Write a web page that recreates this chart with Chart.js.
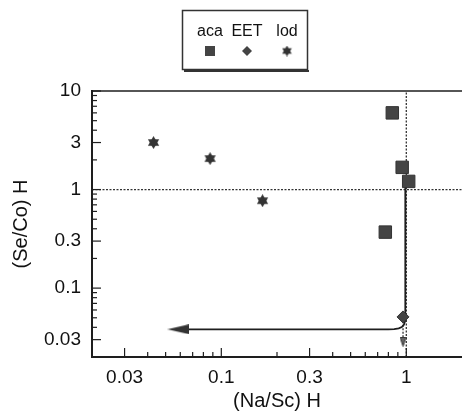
<!DOCTYPE html>
<html>
<head>
<meta charset="utf-8">
<script src="https://cdn.jsdelivr.net/npm/chart.js@4"></script>
<style>
  html, body { margin: 0; padding: 0; background: #fff; overflow: hidden; }
  #wrap { width: 462px; height: 412px; }
</style>
</head>
<body>
<div id="wrap"><canvas id="chart" width="462" height="412"></canvas></div>
<script>
// series names (legend order)
const seriesNames = ['aca', 'EET', 'lod'];

// values
const acaX = [0.84, 0.95, 1.03, 0.77];
const acaY = [6.0, 1.68, 1.21, 0.37];
const eetX = [0.96];
const eetY = [0.051];
const lodX = [0.043, 0.087, 0.167];
const lodY = [3.0, 2.06, 0.77];

// reference lines at 1 and the hand-drawn arrows
const refX = [0.02, 2];
const refY = [0.02, 10];
const trendX = [0.99, 0.99, 0.985, 0.97, 0.945, 0.91, 0.86, 0.8, 0.058];
const trendY = [1.1, 0.056, 0.047, 0.0425, 0.0402, 0.0390, 0.0384, 0.0382, 0.0382];
const arrowLeftX = [0.0586];
const arrowLeftY = [0.0382];
const dropX = [0.96, 0.96];
const dropY = [0.046, 0.03];
const arrowDownX = [0.96];
const arrowDownY = [0.0285];

// tick labels and minor tick marks
const xTicks = [0.03, 0.1, 0.3, 1];
const yTicks = [0.03, 0.1, 0.3, 1, 3, 10];
const xMinor = [0.04, 0.05, 0.06, 0.07, 0.08, 0.09, 0.2, 0.4, 0.5, 0.6, 0.7, 0.8, 0.9];
const yMinor = [0.02, 0.04, 0.05, 0.06, 0.07, 0.08, 0.09, 0.2, 0.4, 0.5, 0.6, 0.7, 0.8, 0.9, 2, 4, 5, 6, 7, 8, 9];

const ink = '#1e1e1e';
const markFill = '#444';

Chart.defaults.font.family = '"Liberation Sans", Arial, sans-serif';
Chart.defaults.color = '#111';

function pts(xs, ys) {
    return xs.map((x, i) => ({ x: x, y: ys[i] }));
}

// filled six-pointed star used for "lod"
function hexagram(size, color) {
    const c = document.createElement('canvas');
    c.width = size; c.height = size;
    const g = c.getContext('2d');
    const r = size / 2;
    g.fillStyle = color;
    [-Math.PI / 2, Math.PI / 2].forEach(start => {
        g.beginPath();
        for (let k = 0; k < 3; k++) {
            const a = start + k * 2 * Math.PI / 3;
            const px = r + Math.cos(a) * r, py = r + Math.sin(a) * r;
            if (k) g.lineTo(px, py); else g.moveTo(px, py);
        }
        g.closePath();
        g.fill();
    });
    return c;
}

// long thin arrow head pointing left
function arrowLeft(w, h, color) {
    const c = document.createElement('canvas');
    c.width = w; c.height = h;
    const g = c.getContext('2d');
    g.fillStyle = color;
    g.beginPath();
    g.moveTo(0, h / 2);
    g.lineTo(w, 0);
    g.lineTo(w, h);
    g.closePath();
    g.fill();
    return c;
}

function arrowDown(w, h, color) {
    const c = document.createElement('canvas');
    c.width = w; c.height = h;
    const g = c.getContext('2d');
    g.fillStyle = '#666';
    g.strokeStyle = color;
    g.lineWidth = 1;
    g.beginPath();
    g.moveTo(0.5, 0.5);
    g.lineTo(w - 0.5, 0.5);
    g.lineTo(w / 2, h - 0.5);
    g.closePath();
    g.fill();
    g.stroke();
    return c;
}

const starImg = hexagram(13, '#333');
const starLegend = hexagram(11, '#333');

// inward tick marks and the top frame line
const framePlugin = {
    id: 'frame',
    afterDatasetsDraw(chart) {
        const { ctx, chartArea, scales } = chart;
        ctx.save();
        ctx.strokeStyle = ink;
        ctx.lineWidth = 1.5;
        ctx.beginPath();
        ctx.moveTo(chartArea.left, chartArea.top);
        ctx.lineTo(chartArea.right, chartArea.top);
        ctx.stroke();
        ctx.lineWidth = 1.2;
        const tickX = (vals, len) => {
            vals.forEach(v => {
                const px = scales.x.getPixelForValue(v);
                ctx.beginPath();
                ctx.moveTo(px, chartArea.bottom);
                ctx.lineTo(px, chartArea.bottom - len);
                ctx.stroke();
            });
        };
        const tickY = (vals, len) => {
            vals.forEach(v => {
                const py = scales.y.getPixelForValue(v);
                ctx.beginPath();
                ctx.moveTo(chartArea.left, py);
                ctx.lineTo(chartArea.left + len, py);
                ctx.stroke();
            });
        };
        tickX(xTicks, 9);
        tickX(xMinor, 5);
        tickY(yTicks, 9);
        tickY(yMinor, 5);
        ctx.restore();
    }
};

// legend box: names above their symbols
const legendPlugin = {
    id: 'boxLegend',
    afterDraw(chart) {
        const ctx = chart.ctx;
        ctx.save();
        ctx.strokeStyle = '#333';
        ctx.lineWidth = 1.5;
        ctx.strokeRect(182.5, 10.5, 125, 59);
        ctx.lineWidth = 2;
        ctx.beginPath();
        ctx.moveTo(184, 71);
        ctx.lineTo(309, 71);
        ctx.stroke();
        ctx.fillStyle = '#111';
        ctx.font = '16px "Liberation Sans", Arial, sans-serif';
        ctx.textAlign = 'center';
        ctx.textBaseline = 'alphabetic';
        const cx = [210, 247, 287];
        seriesNames.forEach((n, i) => ctx.fillText(n, cx[i], 36));
        const sy = 51;
        ctx.fillStyle = markFill;
        ctx.fillRect(cx[0] - 5, sy - 5, 10, 10);
        ctx.beginPath();
        ctx.moveTo(cx[1], sy - 5);
        ctx.lineTo(cx[1] + 5, sy);
        ctx.lineTo(cx[1], sy + 5);
        ctx.lineTo(cx[1] - 5, sy);
        ctx.closePath();
        ctx.fill();
        ctx.drawImage(starLegend, cx[2] - 5.5, sy - 5.5);
        ctx.restore();
    }
};

const ctx = document.getElementById('chart').getContext('2d');
const chart = new Chart(ctx, {
    type: 'scatter',
    data: {
        datasets: [
            {
                label: seriesNames[0],
                data: pts(acaX, acaY),
                pointStyle: 'rect',
                pointRadius: 8.8,
                backgroundColor: markFill,
                borderColor: '#333',
                borderWidth: 1,
                order: 0
            },
            {
                label: seriesNames[1],
                data: pts(eetX, eetY),
                pointStyle: 'rectRot',
                pointRadius: 6,
                backgroundColor: markFill,
                borderColor: '#333',
                borderWidth: 1,
                order: 0
            },
            {
                label: seriesNames[2],
                data: pts(lodX, lodY),
                pointStyle: starImg,
                pointRadius: 6,
                order: 0
            },
            {
                label: 'ref x',
                data: pts([1, 1], refY),
                showLine: true,
                pointRadius: 0,
                borderColor: '#333',
                borderWidth: 1.3,
                borderDash: [2, 1.5],
                order: 5
            },
            {
                label: 'ref y',
                data: pts(refX, [1, 1]),
                showLine: true,
                pointRadius: 0,
                borderColor: '#333',
                borderWidth: 1.3,
                borderDash: [2, 1.5],
                order: 5
            },
            {
                label: 'trend',
                data: pts(trendX, trendY),
                showLine: true,
                pointRadius: 0,
                borderColor: ink,
                borderWidth: 1.8,
                tension: 0,
                order: 4
            },
            {
                label: 'arrow left',
                data: pts(arrowLeftX, arrowLeftY),
                pointStyle: arrowLeft(22, 10, '#333'),
                order: 3
            },
            {
                label: 'drop',
                data: pts(dropX, dropY),
                showLine: true,
                pointRadius: 0,
                borderColor: '#333',
                borderWidth: 1.3,
                borderDash: [2, 1.5],
                order: 4
            },
            {
                label: 'arrow down',
                data: pts(arrowDownX, arrowDownY),
                pointStyle: arrowDown(7, 10, '#333'),
                order: 3
            }
        ]
    },
    options: {
        responsive: false,
        animation: false,
        layout: { autoPadding: false, padding: { top: 91, right: 0, left: 0, bottom: 0 } },
        plugins: {
            legend: { display: false },
            tooltip: { enabled: false }
        },
        scales: {
            x: {
                type: 'logarithmic',
                min: 0.02,
                max: 2,
                afterBuildTicks: s => { s.ticks = xTicks.map(v => ({ value: v })); },
                afterFit: s => { s.height = 55; },
                grid: { display: false, drawTicks: false },
                border: { display: true, color: ink, width: 2 },
                ticks: {
                    autoSkip: false,
                    maxRotation: 0,
                    padding: 9,
                    font: { size: 19 },
                    callback: v => String(v)
                },
                title: {
                    display: true,
                    text: '(Na/Sc) H',
                    font: { size: 20, lineHeight: 1.1 },
                    padding: { top: 0, bottom: 0 }
                }
            },
            y: {
                type: 'logarithmic',
                min: 0.02,
                max: 10,
                afterBuildTicks: s => { s.ticks = yTicks.map(v => ({ value: v })); },
                afterFit: s => { s.width = 92; },
                grid: { display: false, drawTicks: false },
                border: { display: true, color: ink, width: 2 },
                ticks: {
                    autoSkip: false,
                    padding: 11,
                    font: { size: 19 },
                    callback: v => String(v)
                },
                title: {
                    display: true,
                    text: '(Se/Co) H',
                    font: { size: 20, lineHeight: 1.1 },
                    padding: { top: 10, bottom: 0 }
                }
            }
        }
    },
    plugins: [framePlugin, legendPlugin]
});
</script>
</body>
</html>
